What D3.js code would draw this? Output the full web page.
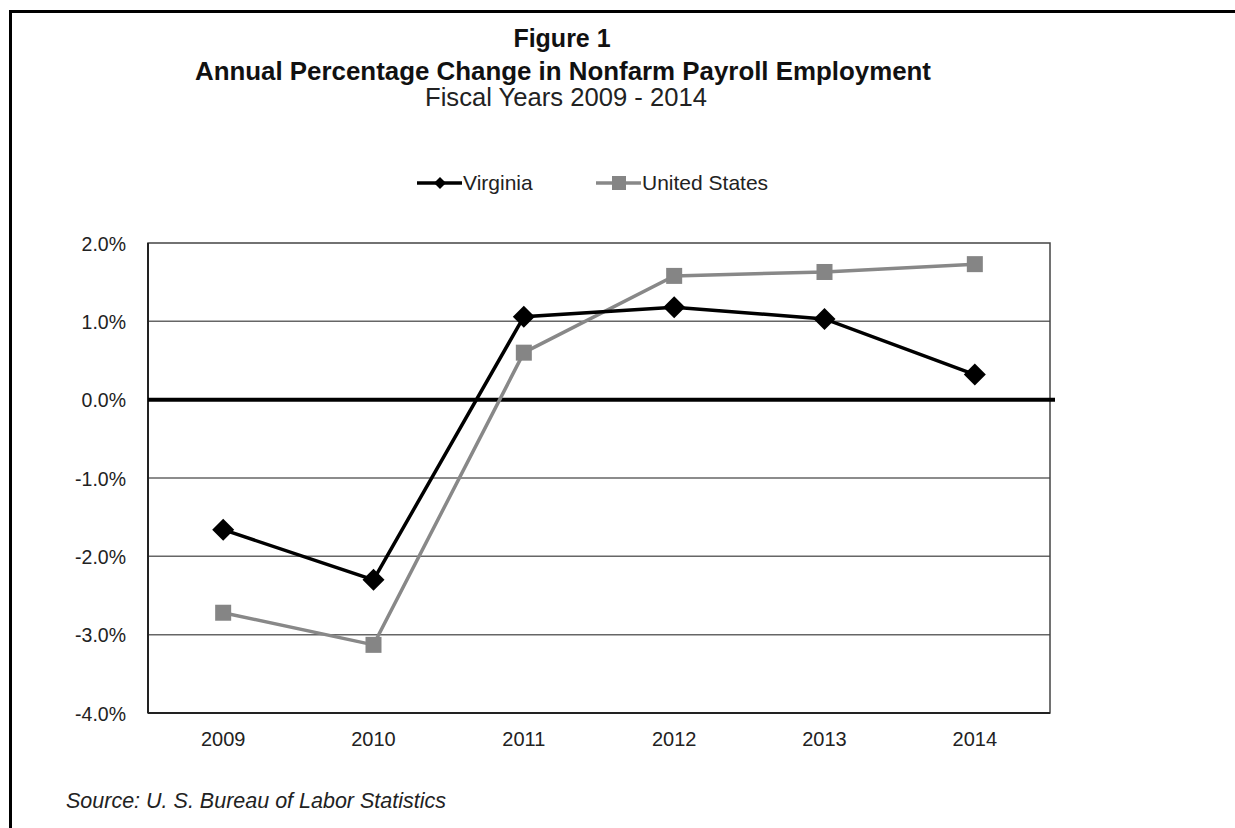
<!DOCTYPE html>
<html>
<head>
<meta charset="utf-8">
<script src="https://cdn.jsdelivr.net/npm/d3@7"></script>
<style>
  html, body { margin: 0; padding: 0; background: #fff; }
  svg { display: block; font-family: "Liberation Sans", Arial, sans-serif; }
</style>
</head>
<body>
<svg id="chart" width="1235" height="828"></svg>
<script>
// Fiscal years and annual percentage change in nonfarm payroll employment
const years = ["2009", "2010", "2011", "2012", "2013", "2014"];
const virginia = [-1.66, -2.30, 1.06, 1.18, 1.03, 0.32];
const unitedStates = [-2.72, -3.13, 0.60, 1.58, 1.63, 1.73];
const yTicks = [2, 1, 0, -1, -2, -3, -4];
const seriesNames = ["Virginia", "United States"];

(function draw() {
const svg = d3.select("#chart");
const FONT = "'Liberation Sans', Arial, sans-serif";

// Outer frame (top and left edges visible)
svg.append("path")
  .attr("d", "M10.5,828 V11.5 H1235")
  .attr("fill", "none").attr("stroke", "#000").attr("stroke-width", 3);

// Titles
svg.append("text").attr("x", 562).attr("y", 47).attr("text-anchor", "middle")
  .attr("font-weight", "bold").attr("font-size", 25).attr("fill", "#111").text("Figure 1");
svg.append("text").attr("x", 563).attr("y", 80).attr("text-anchor", "middle")
  .attr("font-weight", "bold").attr("font-size", 25).attr("fill", "#111")
  .attr("textLength", 736).attr("lengthAdjust", "spacingAndGlyphs")
  .text("Annual Percentage Change in Nonfarm Payroll Employment");
svg.append("text").attr("x", 566).attr("y", 106).attr("text-anchor", "middle")
  .attr("font-size", 25).attr("fill", "#222")
  .attr("textLength", 282).attr("lengthAdjust", "spacingAndGlyphs")
  .text("Fiscal Years 2009 - 2014");

// Plot area
const pLeft = 148, pRight = 1050, pTop = 243, pBottom = 713;
const x = d3.scaleBand().domain(years).range([pLeft, pRight]);
const y = d3.scaleLinear().domain([-4, 2]).range([pBottom, pTop]);
const cx = d => x(d) + x.bandwidth() / 2;

// Horizontal gridlines
svg.append("g").selectAll("line").data(yTicks.filter(t => t !== 0 && t !== -4 && t !== 2))
  .join("line")
  .attr("x1", pLeft).attr("x2", pRight)
  .attr("y1", d => y(d)).attr("y2", d => y(d))
  .attr("stroke", "#666").attr("stroke-width", 1.5);

// Plot border
svg.append("rect").attr("x", pLeft).attr("y", pTop)
  .attr("width", pRight - pLeft).attr("height", pBottom - pTop)
  .attr("fill", "none").attr("stroke", "#444").attr("stroke-width", 1.5);
svg.append("line").attr("x1", pLeft).attr("x2", pLeft).attr("y1", pTop).attr("y2", pBottom)
  .attr("stroke", "#222").attr("stroke-width", 2);
svg.append("line").attr("x1", pLeft).attr("x2", pRight).attr("y1", pBottom).attr("y2", pBottom)
  .attr("stroke", "#222").attr("stroke-width", 2);

// Y axis labels (plain hyphen for negatives)
const pct = d => (d < 0 ? "-" : "") + Math.abs(d).toFixed(1) + "%";
const yAxis = d3.axisLeft(y).tickValues(yTicks).tickSize(0).tickPadding(22).tickFormat(pct);
const yg = svg.append("g").attr("transform", `translate(${pLeft},0)`).call(yAxis);
yg.select(".domain").remove();
yg.attr("font-size", null).attr("font-family", null);
yg.selectAll("text").attr("font-size", 19.5).attr("fill", "#222").attr("font-family", FONT)
  .attr("dy", "0.36em");

// X axis labels
const xAxis = d3.axisBottom(x).tickSize(0).tickPadding(19);
const xg = svg.append("g").attr("transform", `translate(0,${pBottom})`).call(xAxis);
xg.select(".domain").remove();
xg.attr("font-size", null).attr("font-family", null);
xg.selectAll("text").attr("font-size", 20).attr("fill", "#222").attr("font-family", FONT);

// Zero line
svg.append("line").attr("x1", pLeft).attr("x2", pRight + 5)
  .attr("y1", y(0)).attr("y2", y(0))
  .attr("stroke", "#000").attr("stroke-width", 4);

const line = d3.line().x((d, i) => cx(years[i])).y(d => y(d));
const diamond = s => `M0,${-s} L${s},0 L0,${s} L${-s},0 Z`;

// United States series
svg.append("path").datum(unitedStates).attr("d", line)
  .attr("fill", "none").attr("stroke", "#888").attr("stroke-width", 3.5);
svg.append("g").selectAll("rect").data(unitedStates).join("rect")
  .attr("x", (d, i) => cx(years[i]) - 8).attr("y", d => y(d) - 8)
  .attr("width", 16).attr("height", 16).attr("fill", "#858585");

// Virginia series
svg.append("path").datum(virginia).attr("d", line)
  .attr("fill", "none").attr("stroke", "#000").attr("stroke-width", 3.5);
svg.append("g").selectAll("path").data(virginia).join("path")
  .attr("transform", (d, i) => `translate(${cx(years[i])},${y(d)})`)
  .attr("d", diamond(11)).attr("fill", "#000");

// Legend
const legend = svg.append("g");
const legendItems = [
  { name: seriesNames[0], x0: 417, color: "#000" },
  { name: seriesNames[1], x0: 596, color: "#888" }
];
legendItems.forEach((it, k) => {
  const g = legend.append("g").attr("transform", `translate(${it.x0},183)`);
  g.append("line").attr("x1", 0).attr("x2", 45).attr("y1", 0).attr("y2", 0)
    .attr("stroke", it.color).attr("stroke-width", 3.5);
  if (k === 0) {
    g.append("path").attr("transform", "translate(23,0)").attr("d", diamond(6)).attr("fill", "#000");
  } else {
    g.append("rect").attr("x", 16).attr("y", -7).attr("width", 14).attr("height", 14).attr("fill", "#858585");
  }
  g.append("text").attr("x", 46).attr("y", 7).attr("font-size", 21).attr("fill", "#222").text(it.name);
});

// Source note
svg.append("text").attr("x", 66).attr("y", 808).attr("font-size", 21.5)
  .attr("font-style", "italic").attr("fill", "#222")
  .text("Source:  U. S. Bureau of Labor Statistics");
})();
</script>
</body>
</html>
